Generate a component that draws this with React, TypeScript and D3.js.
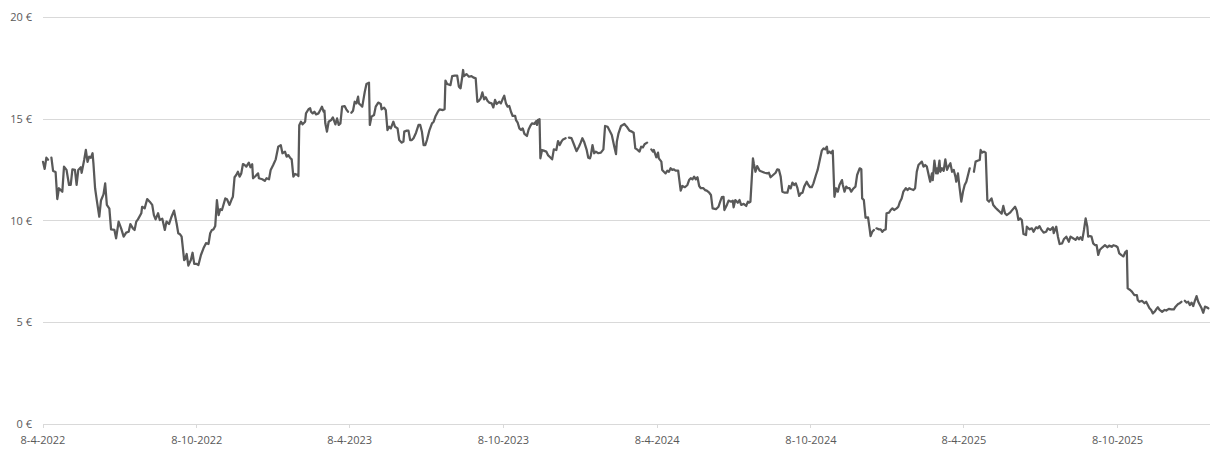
import React from "react";
import * as d3 from "d3";

const START_DATE = "2022-04-08";
const END_OFFSET_DAYS = 1389;
const xTickLabels = ["8-4-2022", "8-10-2022", "8-4-2023", "8-10-2023", "8-4-2024", "8-10-2024", "8-4-2025", "8-10-2025"];
const yTickValues = [0, 5, 10, 15, 20];

// days since START_DATE
const dayOffsets = [
  0, 2, 4, 6, 8, 10, 12, 15, 17, 19, 23, 25, 28, 31, 33, 35, 38, 40, 42, 45, 46, 49, 51, 53, 55, 57, 59, 60, 62, 64, 67, 69, 72, 74, 76, 79,
  81, 85, 87, 90, 93, 96, 99, 102, 104, 107, 109, 111, 113, 117, 118, 121, 124, 127, 130, 132, 134, 137, 139, 142, 145, 147, 150, 153, 156, 159,
  161, 163, 165, 168, 169, 171, 173, 176, 178, 180, 183, 185, 188, 191, 194, 197, 199, 201, 203, 205, 207, 209, 211, 213, 217, 219, 222, 225,
  226, 228, 230, 232, 234, 236, 238, 240, 242, 245, 247, 249, 250, 253, 256, 257, 261, 264, 266, 269, 271, 274, 277, 280, 283, 285, 288, 290,
  292, 294, 296, 298, 300, 303, 304, 305, 307, 309, 312, 313, 316, 318, 319, 321, 323, 325, 328, 330, 332, 334, 335, 336, 338, 340, 343, 345,
  348, 350, 352, 354, 356, 359, 361, 363, 365, 367, 369, 371, 373, 375, 376, 378, 380, 382, 383, 385, 388, 389, 391, 394, 396, 399, 402, 403,
  406, 408, 410, 412, 414, 417, 419, 422, 424, 427, 429, 430, 433, 435, 437, 439, 441, 444, 447, 449, 451, 453, 455, 457, 460, 463, 465, 467,
  470, 472, 476, 478, 479, 481, 485, 487, 490, 493, 495, 497, 499, 500, 501, 504, 507, 510, 512, 515, 517, 519, 521, 523, 525, 527, 529, 531,
  534, 536, 538, 540, 543, 545, 547, 549, 551, 553, 555, 557, 559, 562, 563, 565, 567, 569, 571, 573, 576, 578, 580, 582, 585, 587, 588, 589,
  591, 592, 594, 596, 599, 601, 603, 606, 608, 611, 613, 615, 617, 619, 622, 624, 626, 629, 632, 635, 638, 640, 642, 644, 647, 649, 651, 652,
  654, 656, 658, 661, 664, 667, 669, 672, 674, 677, 680, 682, 683, 685, 688, 690, 692, 694, 695, 698, 701, 703, 705, 707, 710, 712, 714, 716,
  719, 721, 724, 726, 727, 730, 732, 733, 736, 737, 739, 741, 743, 745, 747, 749, 751, 753, 756, 759, 761, 764, 767, 769, 771, 773, 775, 777,
  779, 781, 783, 786, 788, 790, 793, 795, 797, 801, 804, 806, 808, 810, 811, 814, 816, 819, 821, 822, 824, 827, 829, 831, 834, 837, 839, 840,
  842, 845, 846, 848, 850, 853, 856, 859, 862, 864, 866, 869, 872, 874, 876, 878, 880, 883, 886, 888, 890, 892, 894, 896, 898, 900, 902, 904,
  906, 909, 911, 913, 915, 917, 920, 922, 925, 927, 929, 931, 933, 934, 936, 938, 940, 942, 944, 946, 948, 951, 952, 954, 956, 958, 960, 962,
  964, 967, 969, 972, 974, 975, 977, 979, 982, 984, 985, 987, 989, 990, 992, 995, 997, 999, 1001, 1003, 1004, 1007, 1009, 1011, 1013, 1016,
  1018, 1020, 1022, 1024, 1027, 1029, 1031, 1033, 1036, 1038, 1040, 1042, 1044, 1046, 1048, 1050, 1052, 1055, 1056, 1058, 1059, 1061, 1063,
  1064, 1065, 1067, 1068, 1070, 1072, 1074, 1076, 1078, 1080, 1082, 1084, 1086, 1087, 1089, 1091, 1093, 1095, 1097, 1099, 1101, 1103, 1105,
  1108, 1110, 1113, 1115, 1116, 1118, 1120, 1122, 1124, 1126, 1129, 1131, 1134, 1136, 1139, 1141, 1143, 1145, 1147, 1151, 1153, 1157, 1159,
  1161, 1163, 1165, 1167, 1170, 1171, 1174, 1177, 1179, 1182, 1184, 1186, 1188, 1191, 1194, 1196, 1199, 1202, 1203, 1206, 1208, 1210, 1213,
  1215, 1218, 1221, 1223, 1226, 1229, 1231, 1233, 1235, 1237, 1239, 1241, 1243, 1244, 1246, 1248, 1250, 1252, 1254, 1256, 1258, 1261, 1264,
  1267, 1269, 1272, 1274, 1277, 1279, 1281, 1284, 1286, 1288, 1290, 1291, 1294, 1296, 1299, 1302, 1303, 1305, 1308, 1311, 1313, 1315, 1317,
  1319, 1321, 1323, 1325, 1327, 1329, 1332, 1335, 1337, 1340, 1343, 1346, 1348, 1351, 1353, 1355, 1357, 1359, 1361, 1362, 1363, 1365, 1367,
  1369, 1371, 1373, 1375, 1377, 1379, 1381, 1383, 1385, 1387,
];

// closing price in euro (null = missing)
const prices: (number | null)[] = [
  12.9, 12.55, 13.1, 13.0, null, 13.1, 12.45, 12.4, 11.07, 11.6, 11.43, 12.66, 12.5, 11.76, 11.76, 12.53, 12.5, 11.76, 12.5, 12.63, 12.36, 12.99,
  13.48, 12.9, 13.15, 13.1, 13.32, 12.83, 11.6, 11.02, 10.2, 11.0, 11.3, 11.84, 10.78, 10.6,
  9.58, 9.55, 9.14, 9.96, 9.63, 9.22, 9.42, 9.46, 9.84, 9.63, 9.55, 9.96, 10.07, 10.37, 10.69, 10.61, 11.07, 10.94, 10.78, 10.28, 10.07, 10.37,
  10.04, 10.1, 9.55, 9.96, 9.84, 10.2, 10.5, 9.88,
  9.39, 9.34, 9.22, 8.07, 8.1, 8.37, 7.8, 8.07, 8.43, 7.88, 7.88, 7.83, 8.32, 8.65, 8.9, 8.86, 9.39, 9.55, 9.58, 9.74, 11.02, 10.28, 10.57, 10.53,
  11.1, 11.06, 10.78, 11.1,
  11.18, 12.14, 12.25, 12.41, 12.17, 12.33, 12.79, 12.74, 12.66, 12.86, 12.63, 12.78, 12.09, 12.2, 12.33, 12.09, 12.04, 11.96, 12.09, 12.04,
  12.5, 12.74, 13.02, 13.64, 13.72, 13.32, 13.4, 13.15,
  13.23, 13.1, 13.02, 12.17, 12.3, 12.25, 12.2, 14.7, 14.87, 14.74, 14.87, 15.28, 15.48, 15.53, 15.36, 15.28, 15.36, 15.23, 15.28, 15.44, 15.61,
  15.36, 15.41, 14.79, 14.38, 14.87, 14.95, 15.08,
  14.74, 15.03, 14.71, 14.79, 15.61, 15.64, 15.48, 15.36, null, 15.31, 15.41, 15.85, 15.77, 16.1, 15.77, 15.69, 15.61, 16.1, 16.34, 16.72, 16.79,
  14.71, 15.12, 15.2, 15.61, 15.81, 15.74, 15.48,
  15.56, 15.44, 14.46, 14.62, 14.54, 14.87, 14.62, 14.54, 13.97, 13.84, 13.89, 14.38, 14.43, 14.43, 13.97, 13.97, 14.06, 14.33, 14.71, 14.71,
  14.38, 13.72, 13.72, 13.97, 14.46, 14.79, 14.87, 15.12,
  15.36, 15.48, 15.44, 15.48, 16.89, 16.72, 16.67, 17.11, 17.13, 17.13, 16.59, 16.51, 17.08, 17.41, 17.11, 17.21, 17.08, 17.11, 17.05, 17.0,
  15.85, 15.9, 16.02, 16.31, 15.97, 16.07, 15.9, 15.81,
  15.77, 15.57, 15.94, 15.74, 15.85, 15.77, 15.97, 16.15, 15.77, 15.61, 15.64, 15.36, 15.15, 15.15, 14.95, 14.82, 14.54, 14.46, 14.54, 14.27,
  14.17, 14.49, 14.66, 14.79, 14.76, 14.9, 14.71, 14.95,
  14.99, 13.07, 13.48, 13.45, 13.4, 13.23, 13.15, 13.02, 13.51, 13.48, 13.92, 13.72, 13.89, 14.0, 14.06, null, 14.09, 14.06, 13.75, 13.42, 13.65,
  13.84, 14.06, 13.89, 13.5, 13.1, 13.07, 13.2,
  13.72, 13.32, 13.4, 13.32, 13.35, 13.51, 14.66, 14.62, 14.46, 14.22, 13.64, 13.28, 13.89, 14.3, 14.66, 14.71, 14.76, 14.66, 14.62, 14.43,
  14.38, 14.33, 13.56, 13.51, 13.4, 13.64, 13.61, 13.76,
  13.84, null, 13.51, 13.4, 13.48, 13.12, 13.35, 13.07, 12.91, 12.5, 12.41, 12.33, 12.46, 12.41, 12.58, 12.5, 12.53, 12.46, 12.46, 11.48, 11.71,
  11.65, 11.76, 12.0, 12.09, 12.04, 12.17, 12.04,
  12.14, 11.71, 11.6, 11.6, 11.51, 11.48, 11.38, 11.27, 10.61, 10.57, 10.69, 10.94, 11.16, 11.18, 10.53, 10.78, 10.99, 10.94, 10.99, 10.66,
  11.02, 10.89, 11.02, 10.78, 10.83, 10.73, 10.94, 10.89,
  10.94, 13.07, 12.83, 12.41, 12.69, 12.46, 12.41, 12.36, 12.33, 12.36, 12.14, 12.25, 12.36, 12.53, 12.5, 12.17, 11.43, 11.38, 11.38, 11.71,
  11.6, 11.88, 11.76, 11.84, 11.6, 11.22, 11.35, 11.38,
  11.68, 11.92, 11.76, 11.65, 11.65, 11.84, 12.25, 12.5, 13.07, 13.45, 13.56, 13.51, 13.64, 13.32, 13.4, 13.32, 13.45, 11.18, 11.6, 11.43,
  11.76, 12.0, 11.76, 11.43, 11.68, 11.6, 11.6, 11.43,
  11.56, 11.68, 12.25, 12.58, 12.53, 11.1, 11.02, 10.15, 10.17, 9.57, 9.25, 9.46, 9.55, null, 9.63, 9.58, 9.58, 9.46, 9.55, 9.58, 10.37, 10.4,
  10.53, 10.61, 10.53, 10.61,
  10.69, 10.94, 11.1, 11.43, 11.6, 11.51, 11.6, 11.56, 11.51, 11.6, 12.41, 12.74, 12.83, 12.91, 12.66, 12.74, 12.66, 12.09, 11.92, 12.33, 12.0,
  12.96, 12.33,
  12.58, 12.33, 12.96, 12.41, 12.58, 12.46, 13.02, 12.5, 12.69, 12.83, 12.41, 12.5, 12.17, 11.92, 12.33, 11.6, 10.94, 11.43, 11.76, 11.92,
  12.25, 12.58, null,
  12.41, 12.91, 12.96, 12.99, 13.48, 13.35, 13.4, 13.35, 11.02, 10.94, 11.1, 10.78, 10.63, 10.55, 10.43, 10.35, 10.73, 10.37, 10.28, 10.4,
  10.5, 10.69, 10.5,
  10.04, 10.12, 10.04, 9.35, 9.3, 9.71, 9.58, 9.63, 9.46, 9.68, 9.63, 9.74, 9.58, 9.42, 9.46, 9.63, 9.55, 9.68, 9.39, 9.71, 9.22, 8.86, 8.89,
  9.09, 9.22, 8.97, 9.22, 9.14, 9.06, 9.19, 9.09, 9.19, 9.06, 9.55, 10.12, 9.71, 9.22, 9.25, 9.22, 8.89, 8.81, 8.81, 8.32, 8.58, 8.7, 8.8,
  8.7, 8.78, 8.72, 8.8, 8.76, 8.7, 8.4, 8.3, 8.25, 8.45, 8.53, 6.68, 6.6, 6.52, 6.35, 6.35, 6.11, 6.02, 6.07, 5.95, 6.02, 5.86, 5.7,
  5.62, 5.45, 5.53, 5.65, 5.75, 5.62, 5.53, 5.62, 5.59, 5.67, 5.65, 5.65, 5.78, 5.91, 5.95, 6.02, null, 6.07, 5.98, null, 6.02, 5.86, 5.98,
  5.81, 6.07, 6.3, 6.02, 5.86, 5.7, 5.48, 5.78, 5.75, 5.7,
];

type Pt = { date: Date; v: number | null };

const FONT = "'Open Sans', 'Liberation Sans', sans-serif";
const TEXT_COLOR = "#595959";
const GRID_COLOR = "#d9d9d9";
const LINE_COLOR = "#595959";

export default function App() {
  const W = 1222;
  const H = 462;
  const start = d3.timeParse("%Y-%m-%d")(START_DATE) as Date;
  const end = d3.timeDay.offset(start, END_OFFSET_DAYS);
  const x = d3.scaleTime().domain([start, end]).range([43, 1210]);
  const y = d3.scaleLinear().domain([0, 20]).range([424.3, 17.3]);
  const parseTick = d3.timeParse("%d-%m-%Y");
  const xTicks = xTickLabels.map((l) => ({ label: l, date: parseTick(l) as Date }));

  const n = Math.min(dayOffsets.length, prices.length);
  const data: Pt[] = [];
  for (let i = 0; i < n; i++) {
    data.push({ date: d3.timeDay.offset(start, dayOffsets[i]), v: prices[i] });
  }
  const line = d3
    .line<Pt>()
    .defined((d) => d.v !== null)
    .x((d) => x(d.date))
    .y((d) => y(d.v as number));

  const [x0, x1] = x.range();

  return (
    <svg
      width={W}
      height={H}
      style={{ position: "absolute", left: 0, top: 0, background: "#fff" }}
      fontFamily={FONT}
    >
      {yTickValues.map((t) => (
        <g key={"y" + t}>
          <line x1={x0} x2={x1} y1={y(t)} y2={y(t)} stroke={GRID_COLOR} strokeWidth={1} shapeRendering="crispEdges" />
          <text x={32} y={y(t)} dy="0.35em" textAnchor="end" fontSize={11} fill={TEXT_COLOR}>
            {`${t} €`}
          </text>
        </g>
      ))}
      {xTicks.map((t) => (
        <g key={t.label}>
          <line
            x1={x(t.date)}
            x2={x(t.date)}
            y1={y(0)}
            y2={y(0) + 4}
            stroke={GRID_COLOR}
            strokeWidth={1}
            shapeRendering="crispEdges"
          />
          <text x={x(t.date)} y={444} textAnchor="middle" fontSize={11} fill={TEXT_COLOR}>
            {t.label}
          </text>
        </g>
      ))}
      <path d={line(data) || ""} fill="none" stroke={LINE_COLOR} strokeWidth={2.25} strokeLinejoin="round" strokeLinecap="round" />
    </svg>
  );
}
